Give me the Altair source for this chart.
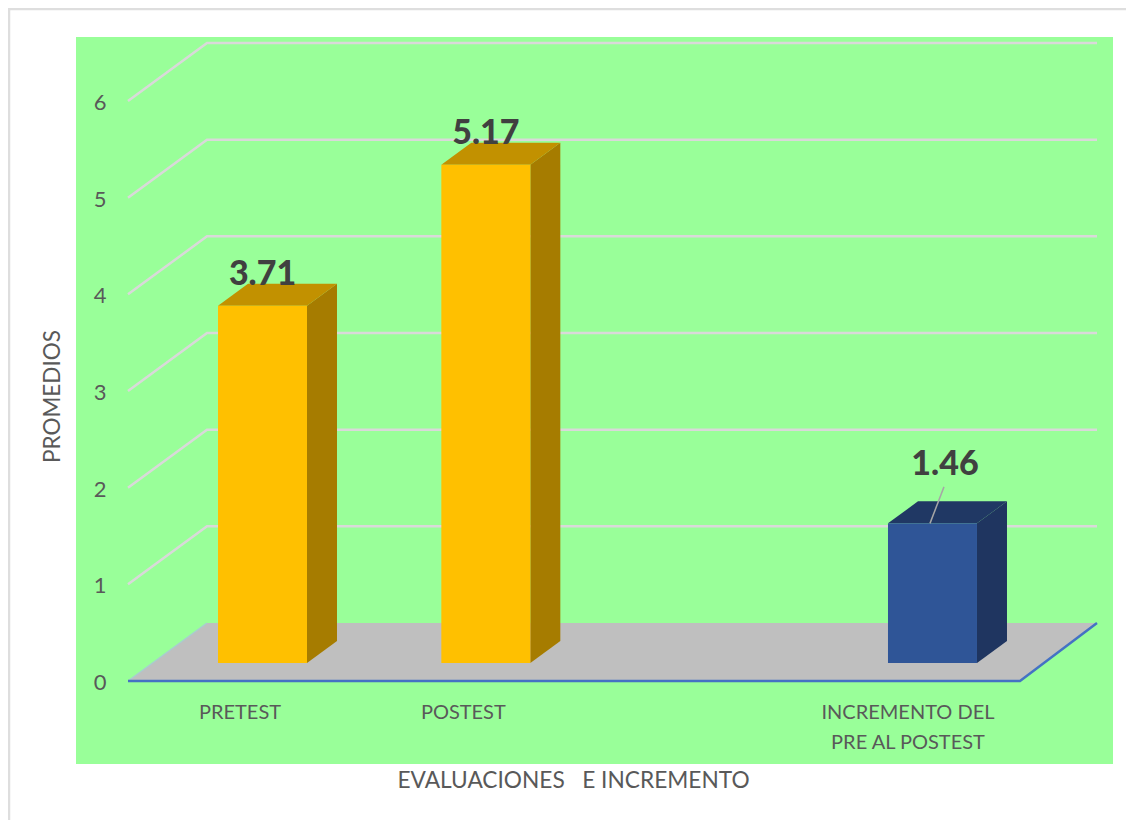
import altair as alt
import pandas as pd

# --- values
categories = ["PRETEST", "POSTEST", "INCREMENTO DEL\nPRE AL POSTEST"]
slots = [0, 1, 3]
values = [3.71, 5.17, 1.46]
front_colors = ["#FFC000", "#FFC000", "#2F5597"]
top_colors = ["#C29100", "#C29100", "#203864"]
side_colors = ["#A67C00", "#A67C00", "#1F3560"]
ticks = [0, 1, 2, 3, 4, 5, 6]
value_labels = ["3.71", "5.17", "1.46"]
x_title = "EVALUACIONES\u00a0\u00a0\u00a0E INCREMENTO"
y_title = "PROMEDIOS"

FONT = "Lato"
W, H = 1118, 812
X_U, Y_U = 223.33, 96.67        # pixels per slot / per value unit


def ux(px):   # horizontal page position -> slot units
    return (px - 262.5) / X_U


def uy(py):   # vertical page position -> value units
    return (681 - py) / Y_U


xs = alt.Scale(domain=[ux(8), ux(8 + W)], nice=False, zero=False)
ys = alt.Scale(domain=[uy(8 + H), uy(8)], nice=False, zero=False)

BAR_W = 89 / X_U
DEPTH_X, DEPTH_Y = 30 / X_U, 22 / Y_U
BASE = 18 / Y_U
TOP_TRIM = -1.5 / Y_U
FLOOR_X, FLOOR_Y = 79 / X_U, 58 / Y_U
FL, FR = ux(128), ux(1020)
FR_BACK = ux(1097)


def X(f, **kw):
    return alt.X(f, type="quantitative", scale=xs, axis=None, **kw)


def Y(f, **kw):
    return alt.Y(f, type="quantitative", scale=ys, axis=None, **kw)


# background panel
panel = alt.Chart(pd.DataFrame([dict(a=ux(76), b=ux(1113), c=uy(764), d=uy(37))])).mark_rect(
    color="#99FF99"
).encode(x=X("a:Q"), x2="b:Q", y=Y("c:Q"), y2="d:Q")

# outer frame (left and top)
frame = alt.Chart(pd.DataFrame(dict(
    x=[ux(9), ux(9), ux(8 + W)], y=[uy(8 + H), uy(9), uy(9)], o=[0, 1, 2]
))).mark_line(color="#DEDEDE", strokeWidth=2.5).encode(x=X("x:Q"), y=Y("y:Q"), order="o:Q")

# gridlines bent along the side wall and back wall
grid_rows = []
for t in ticks[1:]:
    grid_rows += [dict(t=t, o=0, x=FL, y=t), dict(t=t, o=1, x=FL + FLOOR_X, y=t + FLOOR_Y),
                  dict(t=t, o=2, x=FR_BACK, y=t + FLOOR_Y)]
grid = alt.Chart(pd.DataFrame(grid_rows)).mark_line(color="#D9D9D9", strokeWidth=2.5).encode(
    x=X("x:Q"), y=Y("y:Q"), detail="t:N", order="o:Q"
)

# floor
floor = alt.Chart(pd.DataFrame([
    dict(y=0, x=FL, x2=FR), dict(y=FLOOR_Y, x=FL + FLOOR_X, x2=FR_BACK)
])).mark_area(color="#BFBFBF", orient="horizontal").encode(y=Y("y:Q"), x=X("x:Q"), x2="x2:Q")

floor_edge = alt.Chart(pd.DataFrame([
    dict(o=0, x=FL, y=0), dict(o=1, x=FR, y=0), dict(o=2, x=FR_BACK, y=FLOOR_Y)
])).mark_line(color="#4472C4", strokeWidth=2.5).encode(x=X("x:Q"), y=Y("y:Q"), order="o:Q")

floor_left = alt.Chart(pd.DataFrame([
    dict(o=0, x=FL, y=0), dict(o=1, x=FL + FLOOR_X, y=FLOOR_Y)
])).mark_line(color="#A9CDD0", strokeWidth=1.5).encode(x=X("x:Q"), y=Y("y:Q"), order="o:Q")

# bars: front, side and top faces all derived from the values
front_rows, side_rows, top_rows = [], [], []
for c, s, v, fc, tc, sc in zip(categories, slots, values, front_colors, top_colors, side_colors):
    l, r = s - BAR_W / 2, s + BAR_W / 2
    t = BASE + v + TOP_TRIM
    front_rows.append(dict(c=c, l=l, r=r, b=BASE, t=t, col=fc))
    side_rows += [dict(c=c, x=r, y=BASE, y2=t, col=sc),
                  dict(c=c, x=r + DEPTH_X, y=BASE + DEPTH_Y, y2=t + DEPTH_Y, col=sc)]
    top_rows += [dict(c=c, y=t, x=l, x2=r, col=tc),
                 dict(c=c, y=t + DEPTH_Y, x=l + DEPTH_X, x2=r + DEPTH_X, col=tc)]

col = alt.Color("col:N", scale=None, legend=None)
sides = alt.Chart(pd.DataFrame(side_rows)).mark_area().encode(
    x=X("x:Q"), y=Y("y:Q"), y2="y2:Q", detail="c:N", color=col)
tops = alt.Chart(pd.DataFrame(top_rows)).mark_area(orient="horizontal").encode(
    y=Y("y:Q"), x=X("x:Q"), x2="x2:Q", detail="c:N", color=col)
fronts = alt.Chart(pd.DataFrame(front_rows)).mark_rect().encode(
    x=X("l:Q"), x2="r:Q", y=Y("b:Q"), y2="t:Q", color=col)

# data labels (the third was dragged away from its bar, with a leader line)
lab_dx = [0, 0, 12.5 / X_U]
lab_dy = [29 / Y_U, 29 / Y_U, 57 / Y_U]
labels = alt.Chart(pd.DataFrame(dict(
    x=[s + d for s, d in zip(slots, lab_dx)],
    y=[BASE + v + d for v, d in zip(values, lab_dy)],
    t=value_labels,
))).mark_text(font=FONT, fontWeight=900, fontSize=34, color="#404040", baseline="middle").encode(
    x=X("x:Q"), y=Y("y:Q"), text="t:N")

leader = alt.Chart(pd.DataFrame([
    dict(o=0, x=slots[2] - 2.5 / X_U, y=BASE + values[2] + TOP_TRIM),
    dict(o=1, x=slots[2] + 11.5 / X_U, y=BASE + values[2] + 35 / Y_U),
])).mark_line(color="#A6A6A6", strokeWidth=1.5).encode(x=X("x:Q"), y=Y("y:Q"), order="o:Q")

# category labels
cat_df = pd.DataFrame(dict(
    x=[s + d / X_U for s, d in zip(slots, [-22.5, -22.5, -24.5])],
    y=[uy(713)] * 3,
    t=[c.split("\n") for c in categories],
))
cats = alt.Chart(cat_df).mark_text(
    font=FONT, fontSize=20, color="#595959", baseline="middle", lineHeight=30
).encode(x=X("x:Q"), y=Y("y:Q"), text="t")

# value-axis tick labels, drawn at the scale's own positions
tick_text = alt.Chart(pd.DataFrame(dict(v=ticks, x=[ux(100)] * len(ticks)))).mark_text(
    font=FONT, fontSize=22, color="#595959", baseline="middle", dy=2
).encode(x=X("x:Q"), y=Y("v:Q"), text=alt.Text("v:Q", format="d"))

# axis titles
y_title_mark = alt.Chart(pd.DataFrame(dict(x=[ux(53)], y=[uy(396.5)], t=[y_title]))).mark_text(
    font=FONT, fontSize=22.5, color="#595959", baseline="middle", angle=270
).encode(x=X("x:Q"), y=Y("y:Q"), text="t:N")
x_title_mark = alt.Chart(pd.DataFrame(dict(x=[ux(573.5)], y=[uy(781)], t=[x_title]))).mark_text(
    font=FONT, fontSize=22.7, color="#595959", baseline="middle"
).encode(x=X("x:Q"), y=Y("y:Q"), text="t:N")

chart = alt.layer(
    panel, frame, grid, floor, floor_left, floor_edge, sides, tops, fronts, leader, labels, cats,
    tick_text, y_title_mark, x_title_mark
).properties(
    width=W, height=H, padding=0, autosize=alt.AutoSizeParams(type="none"), background="white"
).configure_view(stroke=None)

chart.save("out.html", embed_options={"renderer": "svg", "actions": False})
